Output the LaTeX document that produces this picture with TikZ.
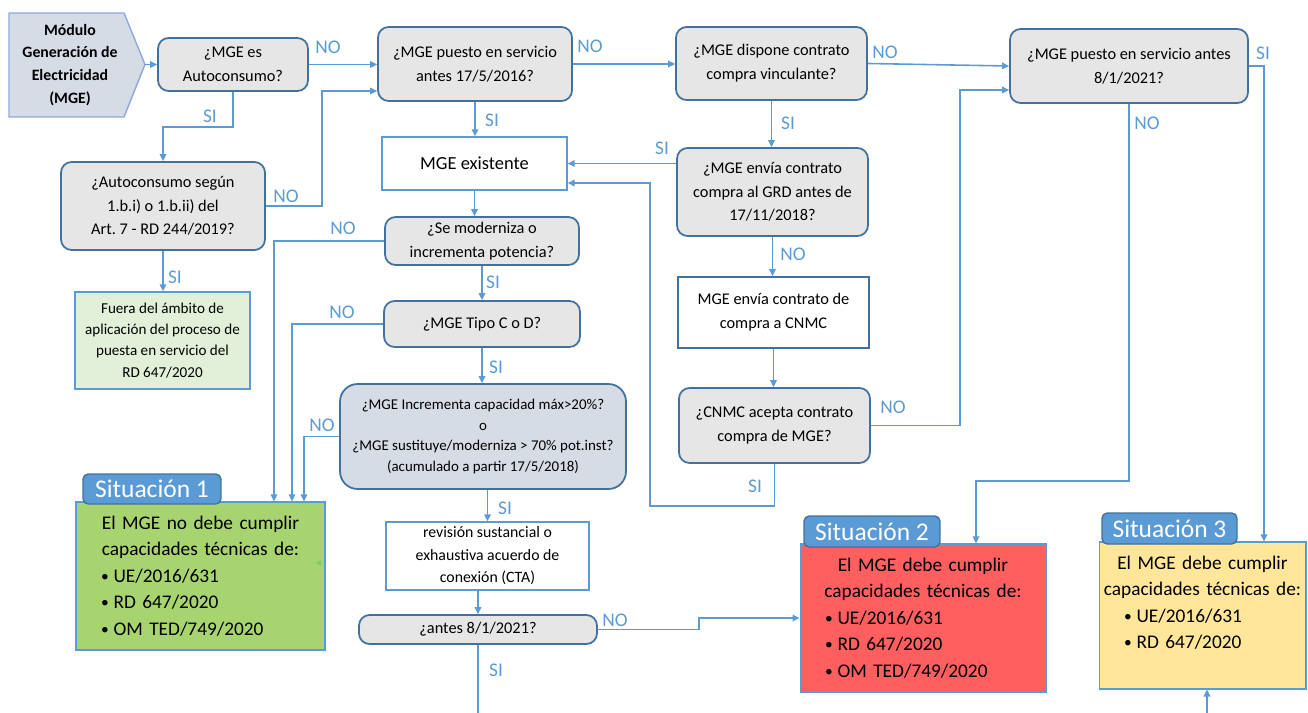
\documentclass[tikz,border=0pt]{standalone}
\usepackage{fontspec}
\setmainfont{Carlito}
\usetikzlibrary{arrows.meta}
\frenchspacing

\definecolor{lineblue}{HTML}{5B9BD5}
\definecolor{darkblue}{HTML}{41719C}
\definecolor{boxgray}{HTML}{E7E6E6}
\definecolor{boxslate}{HTML}{D6DCE5}
\definecolor{modfill}{HTML}{D6DCE5}
\definecolor{modblue}{HTML}{8EA9DB}
\definecolor{fuerafill}{HTML}{E2F0D9}
\definecolor{sitgreen}{HTML}{A8D470}
\definecolor{sitred}{HTML}{FF5F5F}
\definecolor{sityellow}{HTML}{FFE699}
\definecolor{tinygreen}{HTML}{86C96A}

\newcommand{\qfont}{\fontsize{9.3}{13.5}\selectfont}
\newcommand{\smallqfont}{\fontsize{8.5}{11.8}\selectfont}
\newcommand{\fuerafont}{\fontsize{8.6}{12}\selectfont}
\newcommand{\revfont}{\fontsize{9}{12.8}\selectfont}
\newcommand{\exfont}{\fontsize{10.5}{13}\selectfont}
\newcommand{\modfont}{\fontsize{9}{13}\selectfont\bfseries}
\newcommand{\labfont}{\fontsize{11}{13}\selectfont}
\newcommand{\sitfont}{\fontsize{11}{15.1}\selectfont}
\newcommand{\tabfont}{\fontsize{14.5}{16}\selectfont}
\newcommand{\sitbullet}{\hspace*{0.5cm}\raisebox{0.1ex}{\scalebox{0.8}{\textbullet}}\hspace{0.25em}}

\tikzset{
  qbox/.style={draw=darkblue, line width=1pt, fill=boxgray, rounded corners=6pt,
    align=center, font=\qfont, inner sep=0pt},
  rbox/.style={draw=lineblue, line width=0.8pt, fill=white, align=center,
    font=\qfont, inner sep=0pt},
  conn/.style={draw=lineblue, line width=0.9pt, -{Triangle[length=1.4mm,width=1.3mm]}},
  plainline/.style={draw=lineblue, line width=0.9pt},
  lab/.style={text=lineblue, font=\labfont, inner sep=0pt},
  sitbox/.style={draw=lineblue, line width=0.6pt, font=\sitfont, inner xsep=0pt,
    inner ysep=0pt},
  sittab/.style={draw=darkblue, line width=0.8pt, fill=lineblue, rounded corners=3pt,
    text=white, font=\tabfont, inner sep=0pt}
}

\begin{document}
\begin{tikzpicture}[x=0.02cm, y=-0.02cm]

\useasboundingbox (0,0) rectangle (1308,713);

% Start module
\draw[draw=modblue, line width=0.8pt, fill=modfill] (9,13) -- (124,13) -- (145,64.5) -- (124,117) -- (9,117) -- cycle;
\node[font=\modfont, align=center] (mod) at (70,65) {Módulo\\Generación de\\Electricidad\\(MGE)};
\coordinate (modtip) at (145,64.5);

% Top row of questions
\node[qbox, minimum width=3cm, minimum height=1.06cm] (q1) at (233,64.5) {¿MGE es\\Autoconsumo?};
\node[qbox, minimum width=3.88cm, minimum height=1.48cm] (q2) at (475,64) {¿MGE puesto en servicio\\antes 17/5/2016?};
\node[qbox, minimum width=3.82cm, minimum height=1.46cm] (q3) at (771.5,63.5) {¿MGE dispone contrato\\compra vinculante?};
\node[qbox, minimum width=4.76cm, minimum height=1.48cm] (q4) at (1129,66) {¿MGE puesto en servicio antes\\8/1/2021?};

% Left branch
\node[qbox, minimum width=4.08cm, minimum height=1.76cm] (q5) at (163,206) {¿Autoconsumo según\\1.b.i) o 1.b.ii) del\\Art. 7 - RD 244/2019?};
\node[rbox, fill=fuerafill, font=\fuerafont, minimum width=3.5cm, minimum height=1.94cm] (fuera) at (162.5,340.5) {Fuera del ámbito de\\aplicación del proceso de\\puesta en servicio del\\RD 647/2020};

% Middle column
\node[rbox, font=\exfont, minimum width=3.7cm, minimum height=1.06cm] (ex) at (474.5,163.5) {MGE existente};
\node[qbox, minimum width=3.88cm, minimum height=0.96cm] (q6) at (482,241) {¿Se moderniza o\\incrementa potencia?};
\node[qbox, minimum width=3.92cm, minimum height=0.92cm] (q8) at (482,324) {¿MGE Tipo C o D?};
\node[qbox, fill=boxslate, rounded corners=10pt, font=\smallqfont, minimum width=5.72cm, minimum height=2.1cm] (q9) at (483,436.5) {¿MGE Incrementa capacidad máx>20\%?\\o\\¿MGE sustituye/moderniza > 70\% pot.inst?\\(acumulado a partir 17/5/2018)};
\node[rbox, font=\revfont, minimum width=4.06cm, minimum height=1.36cm] (rev) at (487.5,556) {revisión sustancial o\\exhaustiva acuerdo de\\conexión (CTA)};
\node[qbox, minimum width=4.76cm, minimum height=0.58cm] (q11) at (478,629.5) {¿antes 8/1/2021?};

% Right column
\node[qbox, minimum width=3.82cm, minimum height=1.76cm] (q7) at (772.5,192) {¿MGE envía contrato\\compra al GRD antes de\\17/11/2018?};
\node[rbox, draw=darkblue, line width=1pt, minimum width=3.82cm, minimum height=1.42cm] (cnmc) at (773.5,312.5) {MGE envía contrato de\\compra a CNMC};
\node[qbox, minimum width=3.82cm, minimum height=1.5cm] (q10) at (774.5,425.5) {¿CNMC acepta contrato\\compra de MGE?};

% Situations
\node[sitbox, fill=sitgreen, text width=4.98cm, minimum height=2.96cm] (sit1) at (200.5,576)
  {{\centering El MGE no debe cumplir\\capacidades técnicas de:\par}
   \sitbullet UE/2016/631\\\sitbullet RD 647/2020\\\sitbullet OM TED/749/2020};
\node[sittab, minimum width=2.76cm, minimum height=0.6cm] (tab1) at (152,489) {Situación 1};
\node[sitbox, fill=sitred, text width=4.92cm, minimum height=2.96cm] (sit2) at (923,618)
  {{\centering El MGE debe cumplir\\capacidades técnicas de:\par}
   \sitbullet UE/2016/631\\\sitbullet RD 647/2020\\\sitbullet OM TED/749/2020};
\node[sittab, minimum width=2.72cm, minimum height=0.62cm] (tab2) at (872,531.5) {Situación 2};
\node[sitbox, fill=sityellow, text width=4.14cm, minimum height=2.94cm] (sit3) at (1202.5,615.5)
  {{\centering El MGE debe cumplir\\capacidades técnicas de:\par}
   \sitbullet UE/2016/631\\\sitbullet RD 647/2020\\\mbox{}};
\node[sittab, minimum width=2.7cm, minimum height=0.62cm] (tab3) at (1169.5,528.5) {Situación 3};

% Bend points
\coordinate (nojoin) at (322,91);
\coordinate (siloop) at (650,506);
\coordinate (siback) at (650,183);
\coordinate (noup) at (960,90);
\coordinate (sidown) at (1264,0);
\coordinate (nobend) at (976,481);
\coordinate (noa) at (274,0);
\coordinate (nob) at (292,0);
\coordinate (noc) at (304,0);
\coordinate (nostep) at (699,0);
\coordinate (bottom) at (0,713);
\coordinate (up3) at (1207,713);
\coordinate (stub) at (322,563);

% Connectors
\draw[conn] (modtip) -- (q1.west);
\draw[conn] (q1.east) -- (q2.west |- q1.east);
\draw[conn] (q1.south) -- ++(0,35) -| (q5.north);
\draw[conn] (q5.east) -| (nojoin) -- (nojoin -| q2.west);
\draw[conn] (q5.south) -- (q5.south |- fuera.north);
\draw[conn] (q2.south) -- (q2.south |- ex.north);
\draw[conn] (q2.east) -- (q3.west |- q2.east);
\draw[conn] (q3.east) -- (q4.west);
\draw[conn] (q3.south) -- (q3.south |- q7.north);
\draw[conn] (q7.west |- ex.east) -- (ex.east);
\draw[conn] (q7.south) -- (q7.south |- cnmc.north);
\draw[conn] (cnmc.south) -- (cnmc.south |- q10.north);
\draw[conn] (q10.south) |- (siloop) -- (siback) -- (siback -| ex.east);
\draw[conn] (q10.east) -| (noup) -- (noup -| q4.west);
\draw[conn] (q4.east) -| (sit3.north -| sidown);
\draw[conn] (q4.south) |- (nobend) -- (nobend |- sit2.north);
\draw[conn] (ex.south) -- (ex.south |- q6.north);
\draw[conn] (q6.south) -- (q6.south |- q8.north);
\draw[conn] (q8.south) -- (q8.south |- q9.north);
\draw[conn] (rev.north |- q9.south) -- (rev.north);
\draw[conn] (q11.north |- rev.south) -- (q11.north);
\draw[conn, line width=0.6pt] (q6.west) -| (noa |- sit1.north);
\draw[conn, line width=0.6pt] (q8.west) -| (nob |- sit1.north);
\draw[conn, line width=0.6pt] (q9.west) -| (noc |- sit1.north);
\draw[conn] (q11.east) -- (q11.east -| nostep) |- (sit2.west);
\draw[plainline] (q11.south) -- (q11.south |- bottom);
\draw[conn] (up3) -- (up3 |- sit3.south);
\draw[draw=tinygreen, line width=0.5pt, -{Triangle[length=1mm,width=1.2mm]}] (stub) -- ++(-6,0);

% Answer labels
\node[lab] (l1) at (328,47) {NO};
\node[lab] (l2) at (210,116) {SI};
\node[lab] (l3) at (286,196) {NO};
\node[lab] (l4) at (492,120) {SI};
\node[lab] (l5) at (590,46) {NO};
\node[lab] (l6) at (885,52) {NO};
\node[lab] (l7) at (788,123) {SI};
\node[lab] (l8) at (662,148) {SI};
\node[lab] (l9) at (793,254) {NO};
\node[lab] (l10) at (755,486) {SI};
\node[lab] (l11) at (893,407) {NO};
\node[lab] (l12) at (1263,53) {SI};
\node[lab] (l13) at (1147,123) {NO};
\node[lab] (l14) at (343,228) {NO};
\node[lab] (l15) at (342,312) {NO};
\node[lab] (l16) at (322,425) {NO};
\node[lab] (l17) at (175,277) {SI};
\node[lab] (l18) at (493,282) {SI};
\node[lab] (l19) at (496,367) {SI};
\node[lab] (l20) at (505,508) {SI};
\node[lab] (l21) at (615,620) {NO};
\node[lab] (l22) at (496,670) {SI};

\end{tikzpicture}
\end{document}
